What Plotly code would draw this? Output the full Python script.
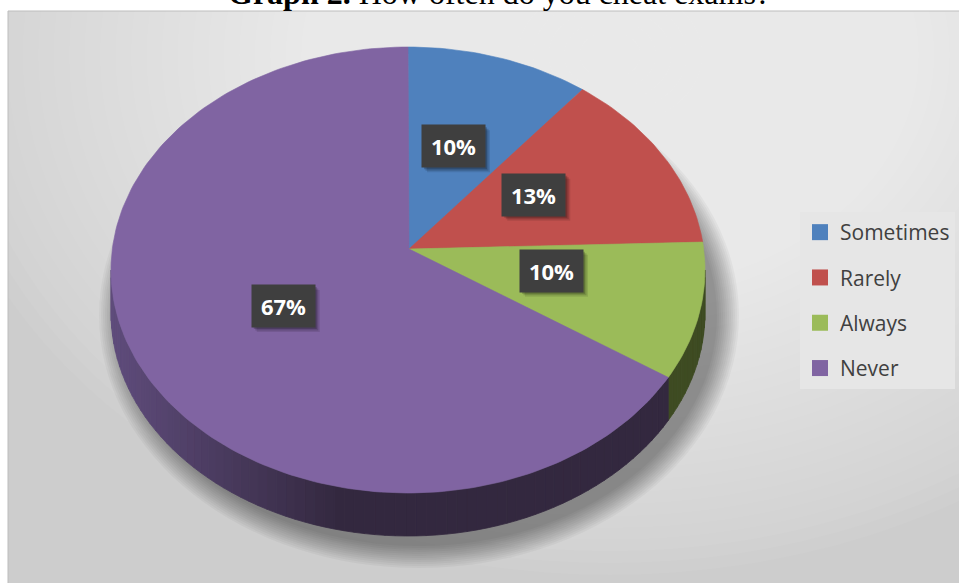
import numpy as np
import plotly.graph_objects as go

# Survey answers: "How often do you cheat exams?"
categories = ["Sometimes", "Rarely", "Always", "Never"]
shares = [10, 13, 10, 67]  # percent of respondents

top_colors = ["#4f81bd", "#c0504d", "#9bbb59", "#8064a2"]
side_colors = ["#2b4566", "#6a2a28", "#3e4b22", "#33283f"]
side_lit = ["#4a6790", "#8e4240", "#5c6f35", "#5f4c7c"]

# Page / projection geometry (pixels, y grows downward)
W, H = 959, 583
CX, CY = 408, 270      # centre of the rim ellipse
RX, RY = 297, 223      # rim semi-axes
APEX = (409, 249)      # projected centre of the disc top
DEPTH = 43             # thickness of the disc
LABEL_FRAC = 0.49
LABEL_DY = -9


def rim(theta_deg, dy=0.0):
    t = np.radians(theta_deg)
    return CX + RX * np.sin(t), CY - RY * np.cos(t) + dy


def hex_to_rgb(h):
    h = h.lstrip("#")
    return tuple(int(h[i:i + 2], 16) for i in (0, 2, 4))


def mix(c1, c2, f):
    a, b = hex_to_rgb(c1), hex_to_rgb(c2)
    return "rgb(%d,%d,%d)" % tuple(round(a[i] + (b[i] - a[i]) * f) for i in range(3))


# cumulative angles, clockwise from 12 o'clock
total = float(sum(shares))
bounds = np.concatenate([[0.0], np.cumsum(shares) / total * 360.0])

fig = go.Figure()

# ---- background panel with a soft radial highlight ----
shapes = [dict(type="rect", xref="x", yref="y", x0=8, y0=11, x1=W, y1=H,
               fillcolor="#cdcdcd", line=dict(width=0), layer="below")]
n_glow = 44
for i in range(n_glow):
    f = 1 - i / n_glow
    shapes.append(dict(type="circle", xref="x", yref="y",
                       x0=610 - 680 * f, x1=610 + 680 * f,
                       y0=55 - 520 * f, y1=55 + 520 * f,
                       fillcolor="white", opacity=0.045, line=dict(width=0), layer="below"))
# soft drop shadow under the disc, cast downward and to the right
for k in range(24, 0, -2):
    shapes.append(dict(type="circle", xref="x", yref="y",
                       x0=CX - RX - k + 12, x1=CX + RX + k + 10,
                       y0=CY - RY + 40 - k, y1=CY + RY + DEPTH + k + 8,
                       fillcolor="black", opacity=0.035, line=dict(width=0), layer="below"))
# page strips outside the chart frame
shapes.append(dict(type="rect", xref="x", yref="y", x0=0, y0=-5, x1=W + 5, y1=11,
                   fillcolor="white", line=dict(width=0), layer="below"))
shapes.append(dict(type="rect", xref="x", yref="y", x0=-5, y0=0, x1=8, y1=H + 5,
                   fillcolor="white", line=dict(width=0), layer="below"))
shapes.append(dict(type="rect", xref="x", yref="y", x0=8, y0=11, x1=W + 2, y1=H + 2,
                   fillcolor="rgba(0,0,0,0)", line=dict(color="#bdbdbd", width=1), layer="below"))

# ---- disc side (front half only), drawn in thin strips for shading ----
for i, cat in enumerate(categories):
    a0, a1 = max(bounds[i], 90.0), min(bounds[i + 1], 270.0)
    if a1 <= a0:
        continue
    steps = max(2, int(np.ceil((a1 - a0) / 2.0)))
    edges = np.linspace(a0, a1, steps + 1)
    for t0, t1 in zip(edges[:-1], edges[1:]):
        ts = np.linspace(t0, t1, 4)
        top = [rim(t) for t in ts]
        bot = [rim(t, DEPTH) for t in ts[::-1]]
        xs = [p[0] for p in top + bot] + [top[0][0]]
        ys = [p[1] for p in top + bot] + [top[0][1]]
        xm = rim((t0 + t1) / 2)[0]
        light = np.clip((340 - xm) / 230.0, 0, 1)
        col = mix(side_colors[i], side_lit[i], light)
        fig.add_trace(go.Scatter(x=xs, y=ys, mode="lines", fill="toself",
                                 fillcolor=col, line=dict(color=col, width=0.8),
                                 hoverinfo="skip", showlegend=False))

# ---- disc top: one wedge per answer ----
for i, cat in enumerate(categories):
    ts = np.linspace(bounds[i], bounds[i + 1], max(8, int(shares[i] * 3)))
    pts = [APEX] + [rim(t) for t in ts] + [APEX]
    fig.add_trace(go.Scatter(x=[p[0] for p in pts], y=[p[1] for p in pts],
                             mode="lines", fill="toself", fillcolor=top_colors[i],
                             line=dict(color=top_colors[i], width=0.6),
                             name=cat, hovertemplate=f"{cat}: {shares[i]}%<extra></extra>",
                             showlegend=False))

# legend entries
for i, cat in enumerate(categories):
    fig.add_trace(go.Scatter(x=[None], y=[None], mode="markers", name=cat,
                             legendgroup=cat,
                             marker=dict(symbol="square", size=16, color=top_colors[i])))

# ---- percentage labels in dark boxes ----
annotations = []
BW, BH = 63, 42
for i, cat in enumerate(categories):
    mid = (bounds[i] + bounds[i + 1]) / 2
    rx_, ry_ = rim(mid)
    lx = APEX[0] + LABEL_FRAC * (rx_ - APEX[0])
    ly = APEX[1] + LABEL_FRAC * (ry_ - APEX[1]) + LABEL_DY
    # box shadow
    for s, op in ((5, 0.10), (3.5, 0.15), (2, 0.2)):
        shapes.append(dict(type="rect", xref="x", yref="y",
                           x0=lx - BW / 2 + s, x1=lx + BW / 2 + s,
                           y0=ly - BH / 2 + s, y1=ly + BH / 2 + s,
                           fillcolor="black", opacity=op, line=dict(width=0), layer="above"))
    annotations.append(dict(x=lx, y=ly, xref="x", yref="y", showarrow=False,
                            text=f"<b>{shares[i]}%</b>", width=BW, height=BH,
                            bgcolor="#3f3f3f", borderpad=0,
                            font=dict(family="Open Sans", size=22, color="white"),
                            xanchor="center", yanchor="middle"))

annotations.append(dict(x=499 / W, y=1 - 13 / H, xref="paper", yref="paper",
                        showarrow=False, xanchor="center", yanchor="bottom",
                        text="<b>Graph 2.</b> How often do you cheat exams?",
                        font=dict(family="Liberation Serif", size=32, color="black")))

fig.update_layout(
    width=W, height=H,
    margin=dict(l=0, r=0, t=0, b=0),
    paper_bgcolor="white", plot_bgcolor="rgba(0,0,0,0)",
    xaxis=dict(range=[0, W], visible=False, fixedrange=True),
    yaxis=dict(range=[H, 0], visible=False, fixedrange=True),
    shapes=shapes, annotations=annotations,
    showlegend=True,
    legend=dict(x=800 / W, y=1 - 212 / H, xanchor="left", yanchor="top",
                bgcolor="#e6e6e6", borderwidth=0, tracegroupgap=15,
                itemwidth=30, itemclick=False, itemdoubleclick=False,
                font=dict(family="Open Sans", size=21, color="#404040")),
)

fig.write_html("out.html")
